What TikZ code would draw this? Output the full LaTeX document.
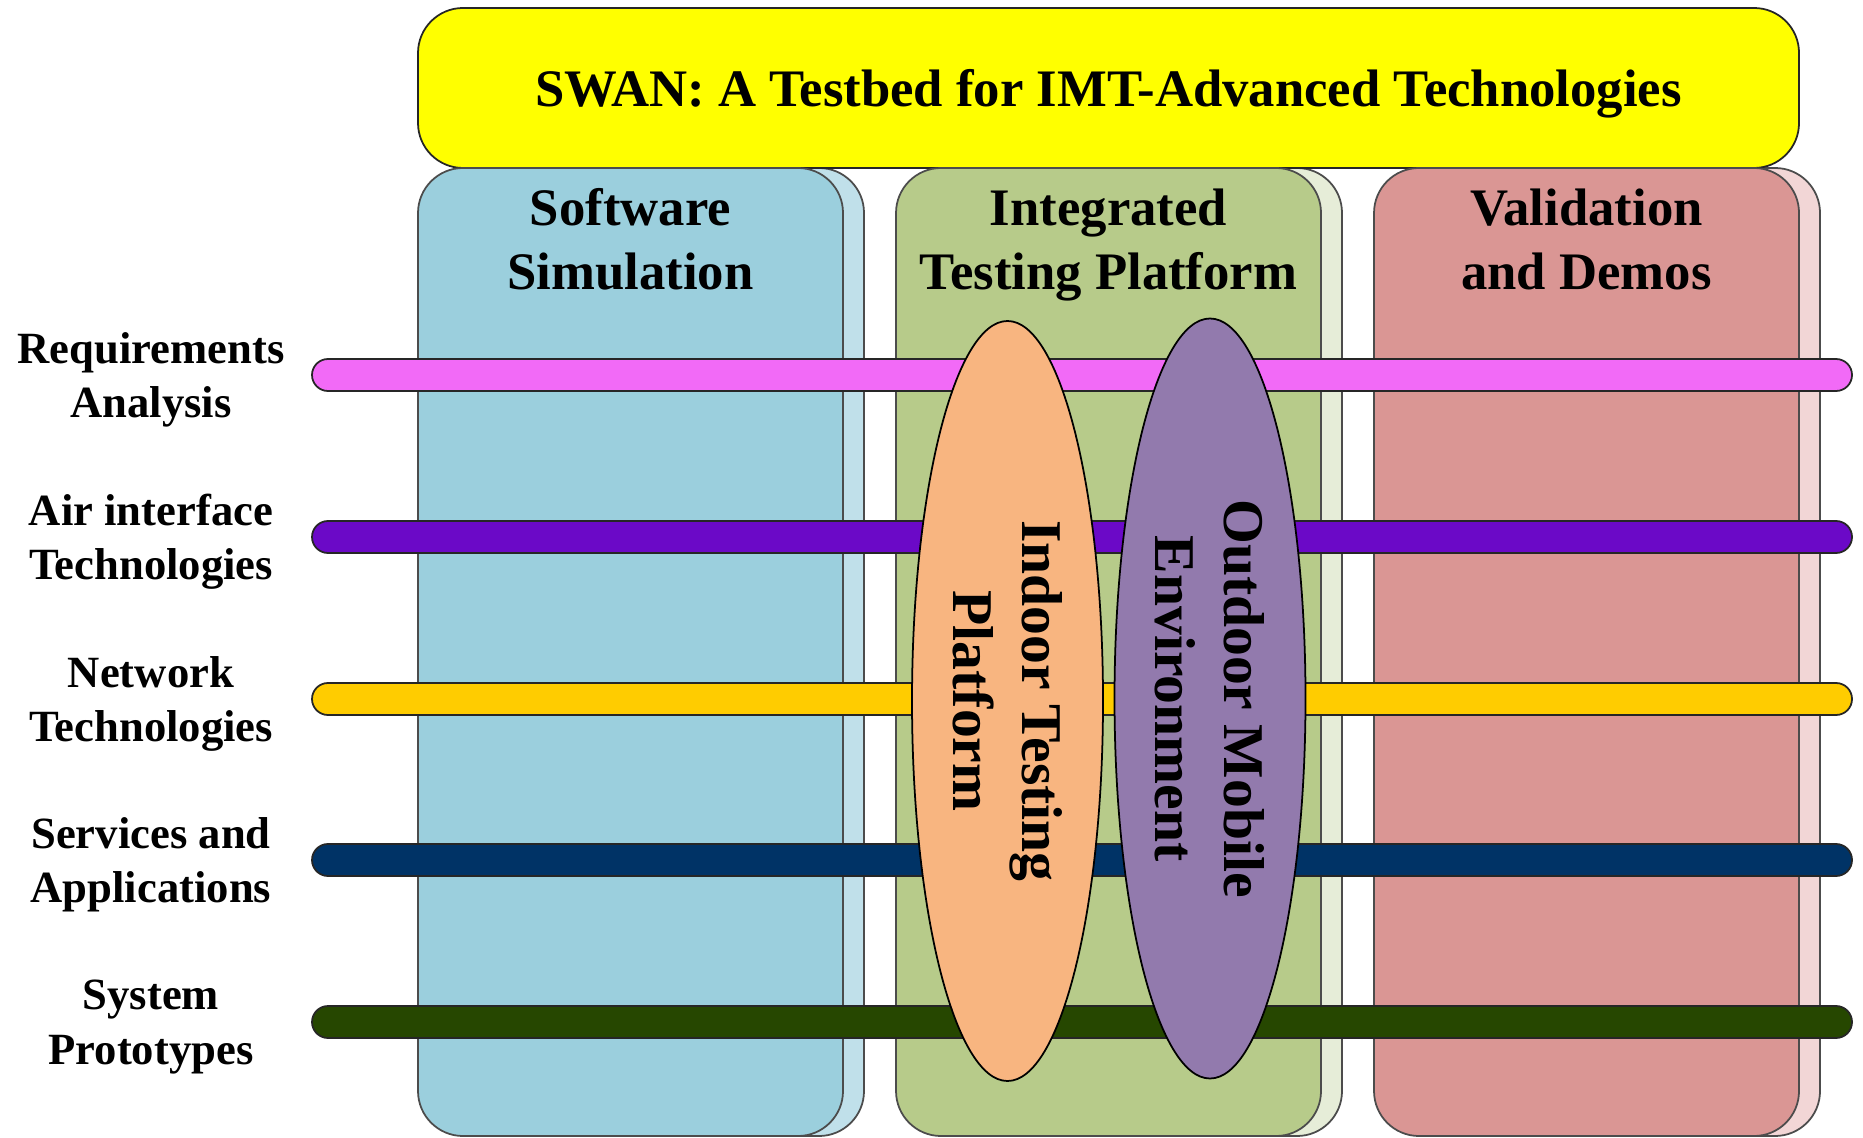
\documentclass[tikz,border=0pt]{standalone}
\usepackage{fontspec}
\setmainfont{Liberation Serif}
\usetikzlibrary{positioning, shapes.geometric, backgrounds}

\definecolor{banneryellow}{RGB}{255,255,0}
\definecolor{swblue}{RGB}{155,207,221}
\definecolor{swshade}{RGB}{192,224,234}
\definecolor{itpgreen}{RGB}{183,203,138}
\definecolor{itpshade}{RGB}{230,237,216}
\definecolor{vdred}{RGB}{218,150,148}
\definecolor{vdshade}{RGB}{242,214,214}
\definecolor{reqpink}{RGB}{242,106,247}
\definecolor{airviolet}{RGB}{107,9,199}
\definecolor{netgold}{RGB}{255,204,0}
\definecolor{servnavy}{RGB}{0,51,102}
\definecolor{sysgreen}{RGB}{38,71,0}
\definecolor{indoorpeach}{RGB}{248,181,128}
\definecolor{outdoorpurple}{RGB}{146,122,173}

\begin{document}
\begin{tikzpicture}[
    box/.style={draw=black!70, line width=0.5pt, rounded corners=0.45cm,
        minimum width=4.25cm, minimum height=9.68cm, inner sep=0pt, outer sep=0pt},
    bar/.style={draw=black!85, line width=0.5pt, rounded corners=0.16cm,
        minimum width=15.4cm, minimum height=0.32cm, inner sep=0pt},
    rowlabel/.style={align=center, inner sep=0pt, yshift=-0.05cm,
        font=\fontsize{12.7}{15.4}\selectfont\bfseries},
    heading/.style={align=center, inner sep=0pt,
        font=\fontsize{15}{18.2}\selectfont\bfseries},
    oval/.style={ellipse, draw=black, line width=0.5pt, rotate=-90,
        minimum width=7.6cm, minimum height=1.91cm, inner sep=0pt, align=center,
        font=\fontsize{16.4}{19.6}\selectfont\bfseries}
]
    \useasboundingbox (0,0) rectangle (18.63,11.37);

    % title banner
    \node[draw=black!85, line width=0.5pt, fill=banneryellow, rounded corners=0.45cm,
        minimum width=13.81cm, minimum height=1.6cm, outer sep=0pt, text depth=0pt,
        font=\fontsize{15}{18}\selectfont\bfseries] (banner) at (11.085,10.49)
        {SWAN: A Testbed for IMT-Advanced Technologies};

    % the three columns
    \node[box, fill=swblue, anchor=north west] (sw) at (banner.south west) {};
    \node[box, fill=itpgreen] (itp) [right=0.53cm of sw] {};
    \node[box, fill=vdred] (vd) [right=0.53cm of itp] {};

    \begin{scope}[on background layer]
        \node[box, fill=swshade, xshift=0.21cm] (swsh) at (sw) {};
        \node[box, fill=itpshade, xshift=0.21cm] (itpsh) at (itp) {};
        \node[box, fill=vdshade, xshift=0.21cm] (vdsh) at (vd) {};
    \end{scope}

    \node[heading] (swhead) [below=0.2cm of sw.north] {Software\\Simulation};
    \node[heading] (itphead) [below=0.2cm of itp.north] {Integrated\\Testing Platform};
    \node[heading] (vdhead) [below=0.2cm of vd.north] {Validation\\and Demos};

    % research areas
    \node[bar, fill=reqpink] (req) at (10.82,7.62) {};
    \node[bar, fill=airviolet] (air) at (10.82,6.00) {};
    \node[bar, fill=netgold] (net) at (10.82,4.38) {};
    \node[bar, fill=servnavy] (serv) at (10.82,2.77) {};
    \node[bar, fill=sysgreen] (sys) at (10.82,1.15) {};

    \node[rowlabel] (reqlabel) at (1.51,7.62) {Requirements\\Analysis};
    \node[rowlabel] (airlabel) at (1.51,6.00) {Air interface\\Technologies};
    \node[rowlabel] (netlabel) at (1.51,4.38) {Network\\Technologies};
    \node[rowlabel] (servlabel) at (1.51,2.77) {Services and\\Applications};
    \node[rowlabel] (syslabel) at (1.51,1.15) {System\\Prototypes};

    % testing platforms
    \node[oval, fill=indoorpeach] (indoor) at (10.075,4.36) {Indoor Testing\\Platform};
    \node[oval, fill=outdoorpurple] (outdoor) at (12.10,4.385) {Outdoor Mobile\\Environment};
\end{tikzpicture}
\end{document}
